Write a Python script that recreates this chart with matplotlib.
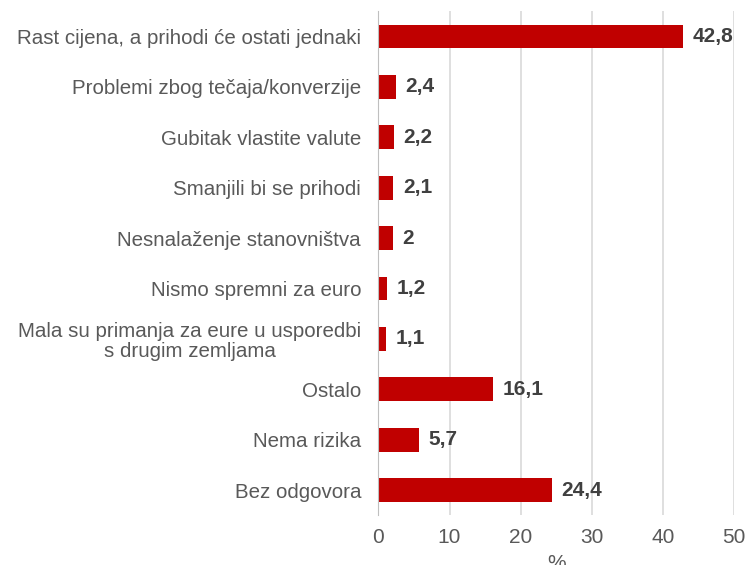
import matplotlib.pyplot as plt

categories = [
    "Rast cijena, a prihodi će ostati jednaki",
    "Problemi zbog tečaja/konverzije",
    "Gubitak vlastite valute",
    "Smanjili bi se prihodi",
    "Nesnalaženje stanovništva",
    "Nismo spremni za euro",
    "Mala su primanja za eure u usporedbi\ns drugim zemljama",
    "Ostalo",
    "Nema rizika",
    "Bez odgovora",
]
values = [42.8, 2.4, 2.2, 2.1, 2.0, 1.2, 1.1, 16.1, 5.7, 24.4]
value_labels = ["42,8", "2,4", "2,2", "2,1", "2", "1,2", "1,1", "16,1", "5,7", "24,4"]
x_ticks = [0, 10, 20, 30, 40, 50]

plt.rcParams["font.family"] = ["Liberation Sans", "DejaVu Sans"]

fig = plt.figure(figsize=(7.45, 5.65), dpi=100)
ax = fig.add_axes((0.508, 0.088, 0.477, 0.892))

pos = list(range(len(categories)))
ax.barh(pos, values, height=0.47, color="#c00000")
ax.set_ylim(len(categories) - 0.5, -0.5)
ax.set_xlim(0, 50)

for y, v, lab in zip(pos, values, value_labels):
    ax.text(v + 1.35, y, lab, va="center", ha="left", fontsize=15,
            fontweight="bold", color="#404040")

ax.set_yticks(pos)
ax.set_yticklabels(categories, fontsize=14.8, color="#595959",
                   multialignment="center", linespacing=1.05)
ax.tick_params(axis="y", length=0, pad=12.5)
ax.set_xticks(x_ticks)
ax.set_xticklabels([str(t) for t in x_ticks], fontsize=15, color="#595959")
ax.tick_params(axis="x", length=0, pad=9)
ax.set_xlabel("%", fontsize=15, color="#595959", labelpad=5)

ax.grid(axis="x", color="#d9d9d9", linewidth=1.2)
ax.set_axisbelow(True)
for s in ["top", "right", "bottom"]:
    ax.spines[s].set_visible(False)
ax.spines["left"].set_color("#bfbfbf")

fig.savefig("out.png", dpi=100)
